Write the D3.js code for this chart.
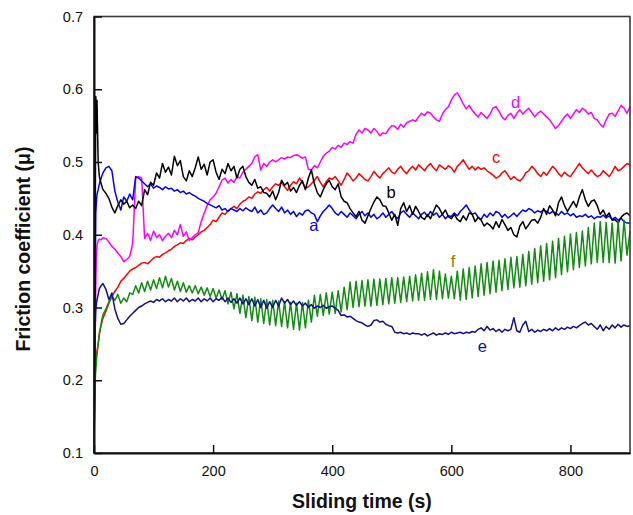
<!DOCTYPE html>
<html>
<head>
<meta charset="utf-8">
<script src="https://cdnjs.cloudflare.com/ajax/libs/d3/7.8.5/d3.min.js"></script>
<style>
body { margin: 0; background: #fff; }
svg { display: block; font-family: Arial, "Liberation Sans", sans-serif; }
</style>
</head>
<body>
<svg width="633" height="515"></svg>
<script>
// sample times (s): a few early points, then every 5 s
const earlyTimes = [0, 1, 2, 3, 4, 5, 7, 9, 12];
const timeS = earlyTimes.concat(d3.range(15, 901, 5));

// friction coefficient, one row per 100 s
const muA = [0.100, 0.200, 0.330, 0.430, 0.445, 0.455, 0.462, 0.470, 0.478,
  0.485, 0.492, 0.494, 0.488, 0.460, 0.445, 0.434, 0.452, 0.446, 0.456, 0.448, 0.480, 0.478, 0.474, 0.470, 0.466, 0.470, 0.464,
  0.467, 0.465, 0.462, 0.466, 0.463, 0.464, 0.460, 0.462, 0.458, 0.460, 0.456, 0.458, 0.455, 0.453, 0.450, 0.448, 0.446, 0.443, 0.441, 0.439,
  0.437, 0.440, 0.434, 0.436, 0.432, 0.436, 0.434, 0.432, 0.436, 0.433, 0.437, 0.434, 0.432, 0.438, 0.430, 0.434, 0.428, 0.430, 0.436, 0.441,
  0.436, 0.432, 0.438, 0.430, 0.434, 0.428, 0.432, 0.425, 0.430, 0.427, 0.433, 0.434, 0.430, 0.428, 0.418, 0.426, 0.432, 0.436, 0.441, 0.436,
  0.430, 0.427, 0.432, 0.428, 0.424, 0.430, 0.426, 0.422, 0.428, 0.432, 0.426, 0.430, 0.424, 0.428, 0.422, 0.425, 0.430, 0.424, 0.428, 0.432,
  0.426, 0.422, 0.430, 0.433, 0.428, 0.424, 0.430, 0.426, 0.422, 0.428, 0.431, 0.425, 0.432, 0.427, 0.430, 0.424, 0.428, 0.422, 0.426, 0.425,
  0.430, 0.426, 0.432, 0.436, 0.441, 0.434, 0.428, 0.430, 0.424, 0.421, 0.428, 0.424, 0.430, 0.426, 0.432, 0.430, 0.424, 0.428, 0.423, 0.426,
  0.430, 0.425, 0.430, 0.434, 0.432, 0.436, 0.434, 0.430, 0.433, 0.431, 0.434, 0.432, 0.429, 0.432, 0.430, 0.427, 0.432, 0.428, 0.430, 0.426,
  0.429, 0.424, 0.426, 0.425, 0.428, 0.424, 0.426, 0.422, 0.425, 0.424, 0.427, 0.423, 0.426, 0.421, 0.424, 0.420, 0.423, 0.418, 0.416, 0.416];

const muB = [0.100, 0.250, 0.400, 0.590, 0.540, 0.585, 0.500, 0.480, 0.470,
  0.462, 0.457, 0.450, 0.438, 0.430, 0.440, 0.448, 0.442, 0.446, 0.437, 0.441, 0.436, 0.446, 0.440, 0.462, 0.455, 0.472, 0.468,
  0.485, 0.478, 0.498, 0.486, 0.493, 0.482, 0.508, 0.495, 0.502, 0.480, 0.474, 0.488, 0.480, 0.492, 0.507, 0.490, 0.497, 0.482, 0.500, 0.503,
  0.486, 0.476, 0.490, 0.484, 0.498, 0.488, 0.494, 0.478, 0.490, 0.494, 0.480, 0.472, 0.468, 0.476, 0.464, 0.466, 0.458, 0.457, 0.452, 0.460,
  0.448, 0.458, 0.475, 0.468, 0.472, 0.460, 0.465, 0.458, 0.468, 0.474, 0.462, 0.478, 0.489, 0.470, 0.458, 0.452, 0.462, 0.470, 0.475, 0.466,
  0.462, 0.470, 0.452, 0.446, 0.444, 0.436, 0.430, 0.425, 0.432, 0.420, 0.416, 0.426, 0.436, 0.445, 0.452, 0.448, 0.440, 0.439, 0.430, 0.420,
  0.428, 0.413, 0.436, 0.444, 0.432, 0.440, 0.428, 0.439, 0.432, 0.424, 0.421, 0.428, 0.422, 0.432, 0.441, 0.436, 0.428, 0.434, 0.425, 0.422,
  0.428, 0.421, 0.418, 0.426, 0.420, 0.430, 0.428, 0.418, 0.424, 0.420, 0.412, 0.416, 0.413, 0.408, 0.418, 0.410, 0.421, 0.414, 0.406, 0.410,
  0.400, 0.397, 0.412, 0.418, 0.408, 0.414, 0.420, 0.421, 0.416, 0.424, 0.436, 0.428, 0.440, 0.434, 0.426, 0.444, 0.452, 0.440, 0.432, 0.439,
  0.446, 0.438, 0.452, 0.462, 0.448, 0.439, 0.446, 0.448, 0.440, 0.428, 0.434, 0.425, 0.430, 0.420, 0.421, 0.416, 0.424, 0.428, 0.430, 0.426];

const muC = [0.100, 0.180, 0.210, 0.225, 0.233, 0.240, 0.250, 0.265, 0.276,
  0.285, 0.295, 0.306, 0.315, 0.322, 0.328, 0.336, 0.340, 0.345, 0.350, 0.353, 0.355, 0.358, 0.361, 0.362, 0.360, 0.364, 0.368,
  0.370, 0.369, 0.373, 0.375, 0.378, 0.380, 0.384, 0.386, 0.389, 0.388, 0.392, 0.395, 0.393, 0.397, 0.400, 0.404, 0.406, 0.410, 0.414, 0.420,
  0.418, 0.424, 0.430, 0.428, 0.433, 0.436, 0.439, 0.436, 0.442, 0.446, 0.448, 0.452, 0.450, 0.456, 0.459, 0.457, 0.462, 0.465, 0.460, 0.466,
  0.470, 0.468, 0.472, 0.466, 0.461, 0.468, 0.473, 0.470, 0.478, 0.472, 0.464, 0.466, 0.470, 0.475, 0.480, 0.472, 0.466, 0.473, 0.478, 0.476,
  0.480, 0.474, 0.468, 0.476, 0.485, 0.480, 0.474, 0.478, 0.484, 0.480, 0.476, 0.474, 0.480, 0.487, 0.482, 0.478, 0.484, 0.488, 0.492, 0.486,
  0.484, 0.490, 0.494, 0.488, 0.484, 0.490, 0.494, 0.489, 0.496, 0.492, 0.488, 0.494, 0.498, 0.492, 0.488, 0.496, 0.493, 0.490, 0.495, 0.492,
  0.486, 0.494, 0.498, 0.503, 0.496, 0.490, 0.494, 0.489, 0.493, 0.490, 0.492, 0.488, 0.485, 0.482, 0.478, 0.480, 0.485, 0.488, 0.482, 0.476,
  0.480, 0.476, 0.474, 0.478, 0.485, 0.488, 0.494, 0.490, 0.484, 0.480, 0.486, 0.482, 0.488, 0.494, 0.490, 0.484, 0.480, 0.486, 0.482, 0.480,
  0.486, 0.492, 0.498, 0.492, 0.488, 0.484, 0.489, 0.484, 0.480, 0.482, 0.488, 0.484, 0.480, 0.486, 0.494, 0.488, 0.490, 0.494, 0.498, 0.496];

const muD = [0.100, 0.200, 0.270, 0.330, 0.370, 0.385, 0.392, 0.394, 0.393,
  0.396, 0.395, 0.390, 0.384, 0.380, 0.375, 0.370, 0.363, 0.366, 0.370, 0.388, 0.478, 0.480, 0.478, 0.395, 0.402, 0.392, 0.405,
  0.396, 0.400, 0.392, 0.398, 0.402, 0.396, 0.406, 0.400, 0.414, 0.398, 0.404, 0.392, 0.396, 0.400, 0.403, 0.418, 0.430, 0.440, 0.448, 0.452,
  0.457, 0.466, 0.475, 0.478, 0.471, 0.476, 0.472, 0.480, 0.478, 0.486, 0.490, 0.494, 0.498, 0.507, 0.510, 0.489, 0.498, 0.494, 0.500, 0.503,
  0.500, 0.503, 0.506, 0.504, 0.507, 0.506, 0.509, 0.510, 0.508, 0.505, 0.507, 0.490, 0.489, 0.495, 0.492, 0.500, 0.508, 0.512, 0.515, 0.520,
  0.518, 0.523, 0.520, 0.526, 0.524, 0.528, 0.526, 0.538, 0.544, 0.540, 0.546, 0.544, 0.540, 0.546, 0.542, 0.536, 0.540, 0.539, 0.545, 0.550,
  0.549, 0.545, 0.552, 0.548, 0.554, 0.556, 0.558, 0.556, 0.562, 0.567, 0.564, 0.569, 0.567, 0.562, 0.558, 0.556, 0.566, 0.572, 0.576, 0.585,
  0.592, 0.595, 0.588, 0.580, 0.573, 0.578, 0.571, 0.566, 0.562, 0.568, 0.564, 0.560, 0.566, 0.574, 0.576, 0.570, 0.562, 0.558, 0.564, 0.567,
  0.560, 0.567, 0.572, 0.566, 0.570, 0.574, 0.568, 0.562, 0.567, 0.570, 0.566, 0.562, 0.558, 0.552, 0.546, 0.550, 0.556, 0.562, 0.566, 0.560,
  0.566, 0.572, 0.568, 0.574, 0.571, 0.566, 0.568, 0.560, 0.558, 0.552, 0.548, 0.558, 0.566, 0.567, 0.563, 0.570, 0.578, 0.574, 0.567, 0.576];

const muE = [0.100, 0.200, 0.270, 0.297, 0.305, 0.310, 0.318, 0.326, 0.330,
  0.333, 0.325, 0.311, 0.320, 0.298, 0.285, 0.277, 0.278, 0.283, 0.288, 0.292, 0.296, 0.300, 0.302, 0.305, 0.307, 0.309, 0.307,
  0.311, 0.309, 0.312, 0.308, 0.311, 0.309, 0.313, 0.308, 0.312, 0.309, 0.313, 0.308, 0.311, 0.309, 0.313, 0.308, 0.312, 0.309, 0.313, 0.308,
  0.312, 0.310, 0.314, 0.308, 0.313, 0.307, 0.312, 0.306, 0.313, 0.305, 0.312, 0.304, 0.312, 0.302, 0.311, 0.300, 0.310, 0.299, 0.308, 0.300,
  0.310, 0.302, 0.313, 0.306, 0.311, 0.304, 0.309, 0.303, 0.308, 0.302, 0.306, 0.300, 0.304, 0.299, 0.302, 0.300, 0.303, 0.299, 0.301, 0.302,
  0.299, 0.296, 0.289, 0.290, 0.287, 0.288, 0.285, 0.282, 0.280, 0.279, 0.276, 0.274, 0.276, 0.282, 0.283, 0.280, 0.281, 0.277, 0.275, 0.274,
  0.266, 0.265, 0.266, 0.264, 0.265, 0.263, 0.265, 0.264, 0.264, 0.262, 0.264, 0.261, 0.263, 0.265, 0.262, 0.264, 0.263, 0.265, 0.263, 0.266,
  0.264, 0.265, 0.266, 0.264, 0.266, 0.265, 0.267, 0.266, 0.270, 0.272, 0.268, 0.274, 0.269, 0.271, 0.267, 0.270, 0.266, 0.270, 0.268, 0.270,
  0.286, 0.268, 0.266, 0.276, 0.281, 0.267, 0.270, 0.266, 0.269, 0.267, 0.270, 0.268, 0.271, 0.268, 0.272, 0.269, 0.272, 0.270, 0.273, 0.271,
  0.274, 0.272, 0.275, 0.278, 0.280, 0.276, 0.278, 0.274, 0.270, 0.276, 0.268, 0.274, 0.270, 0.276, 0.272, 0.277, 0.273, 0.276, 0.274, 0.275];

const muF = [0.100, 0.160, 0.200, 0.214, 0.225, 0.235, 0.250, 0.262, 0.278,
  0.290, 0.298, 0.308, 0.315, 0.310, 0.318, 0.306, 0.313, 0.308, 0.320, 0.318, 0.330, 0.320, 0.334, 0.322, 0.336, 0.324, 0.338,
  0.326, 0.341, 0.327, 0.343, 0.328, 0.340, 0.324, 0.336, 0.322, 0.334, 0.321, 0.330, 0.320, 0.330, 0.319, 0.328, 0.317, 0.327, 0.315, 0.326,
  0.313, 0.324, 0.311, 0.323, 0.305, 0.321, 0.298, 0.319, 0.292, 0.317, 0.286, 0.315, 0.282, 0.314, 0.280, 0.312, 0.278, 0.311, 0.276, 0.310,
  0.275, 0.309, 0.274, 0.308, 0.272, 0.307, 0.270, 0.306, 0.269, 0.307, 0.272, 0.310, 0.280, 0.317, 0.288, 0.318, 0.289, 0.320, 0.291, 0.321,
  0.292, 0.323, 0.294, 0.328, 0.297, 0.335, 0.300, 0.336, 0.301, 0.337, 0.302, 0.338, 0.302, 0.339, 0.303, 0.339, 0.304, 0.340, 0.305, 0.341,
  0.306, 0.341, 0.307, 0.342, 0.308, 0.343, 0.309, 0.345, 0.310, 0.347, 0.310, 0.349, 0.311, 0.352, 0.311, 0.350, 0.312, 0.346, 0.313, 0.343,
  0.312, 0.350, 0.310, 0.353, 0.311, 0.355, 0.313, 0.357, 0.315, 0.360, 0.317, 0.362, 0.319, 0.364, 0.321, 0.365, 0.323, 0.367, 0.325, 0.369,
  0.327, 0.370, 0.328, 0.373, 0.330, 0.377, 0.332, 0.381, 0.334, 0.385, 0.336, 0.388, 0.338, 0.391, 0.341, 0.395, 0.345, 0.398, 0.349, 0.401,
  0.352, 0.403, 0.355, 0.405, 0.357, 0.410, 0.360, 0.416, 0.362, 0.418, 0.362, 0.417, 0.362, 0.416, 0.361, 0.418, 0.364, 0.420, 0.372, 0.405];

const seriesNames = ['c', 'd', 'a', 'b', 'f', 'e'];
const seriesValues = [muC, muD, muA, muB, muF, muE];
const seriesColors = ['#ff0000', '#ff00ff', '#0000ff', '#000000', '#108c10', '#101088'];

// curve letters, anchored in data units (time s, mu)
const labelNames = ['a', 'b', 'c', 'd', 'e', 'f'];
const labelTime = [369, 499, 675, 708, 652, 603];
const labelMu = [0.405, 0.451, 0.498, 0.574, 0.239, 0.355];
const labelColors = ['#0000ff', '#000000', '#ff0000', '#ff00ff', '#101088', '#8c7c00'];

const xTicks = [0, 200, 400, 600, 800];
const yTicks = [0.1, 0.2, 0.3, 0.4, 0.5, 0.6, 0.7];

const svg = d3.select('svg');
const margin = {left: 94, right: 630, top: 16.5, bottom: 453};

const x = d3.scaleLinear().domain([0, 900]).range([margin.left, margin.right]);
const y = d3.scaleLinear().domain([0.1, 0.7]).range([margin.bottom, margin.top]);

const line = d3.line()
  .x(d => x(d[0]))
  .y(d => y(d[1]));

const plot = svg.append('g');
seriesValues.forEach((vals, k) => {
  let pts = timeS.map((t, i) => [t, vals[i]]).filter(p => p[1] !== undefined);
  plot.append('path')
    .attr('d', line(pts))
    .attr('fill', 'none')
    .attr('stroke', seriesColors[k])
    .attr('stroke-width', 1.5)
    .attr('stroke-linejoin', 'round');
});

// curve letters
svg.append('g').selectAll('text')
  .data(labelNames)
  .enter()
  .append('text')
  .attr('x', (d, i) => x(labelTime[i]))
  .attr('y', (d, i) => y(labelMu[i]))
  .attr('text-anchor', 'middle')
  .attr('font-size', '16.5px')
  .attr('fill', (d, i) => labelColors[i])
  .text(d => d);

// frame
svg.append('rect')
  .attr('x', margin.left).attr('y', margin.top)
  .attr('width', margin.right - margin.left).attr('height', margin.bottom - margin.top)
  .attr('fill', 'none')
  .attr('stroke', '#3a3a3a')
  .attr('stroke-width', 1.6);

const xAxis = d3.axisBottom(x).tickValues(xTicks).tickSizeInner(-8).tickSizeOuter(0).tickPadding(13);
const yAxis = d3.axisLeft(y).tickValues(yTicks).tickFormat(d3.format('.1f')).tickSizeInner(-8).tickSizeOuter(0).tickPadding(11);

const gx = svg.append('g').attr('transform', 'translate(0,' + margin.bottom + ')').call(xAxis);
const gy = svg.append('g').attr('transform', 'translate(' + margin.left + ',0)').call(yAxis);
[gx, gy].forEach(g => {
  g.selectAll('path.domain').attr('stroke', '#111').attr('stroke-width', 2);
  g.selectAll('line').attr('stroke', '#111').attr('stroke-width', 1.5);
  g.selectAll('text').attr('font-size', '14.5px').attr('fill', '#111').attr('font-family', 'Arial, "Liberation Sans", sans-serif');
});

svg.append('text')
  .attr('x', (margin.left + margin.right) / 2)
  .attr('y', 508)
  .attr('text-anchor', 'middle')
  .attr('font-size', '19.5px')
  .attr('font-weight', 'bold')
  .attr('fill', '#111')
  .text('Sliding time (s)');

svg.append('text')
  .attr('transform', 'translate(30,249) rotate(-90)')
  .attr('text-anchor', 'middle')
  .attr('font-size', '19.5px')
  .attr('font-weight', 'bold')
  .attr('fill', '#111')
  .text('Friction coefficient (\u03bc)');
</script>
</body>
</html>
